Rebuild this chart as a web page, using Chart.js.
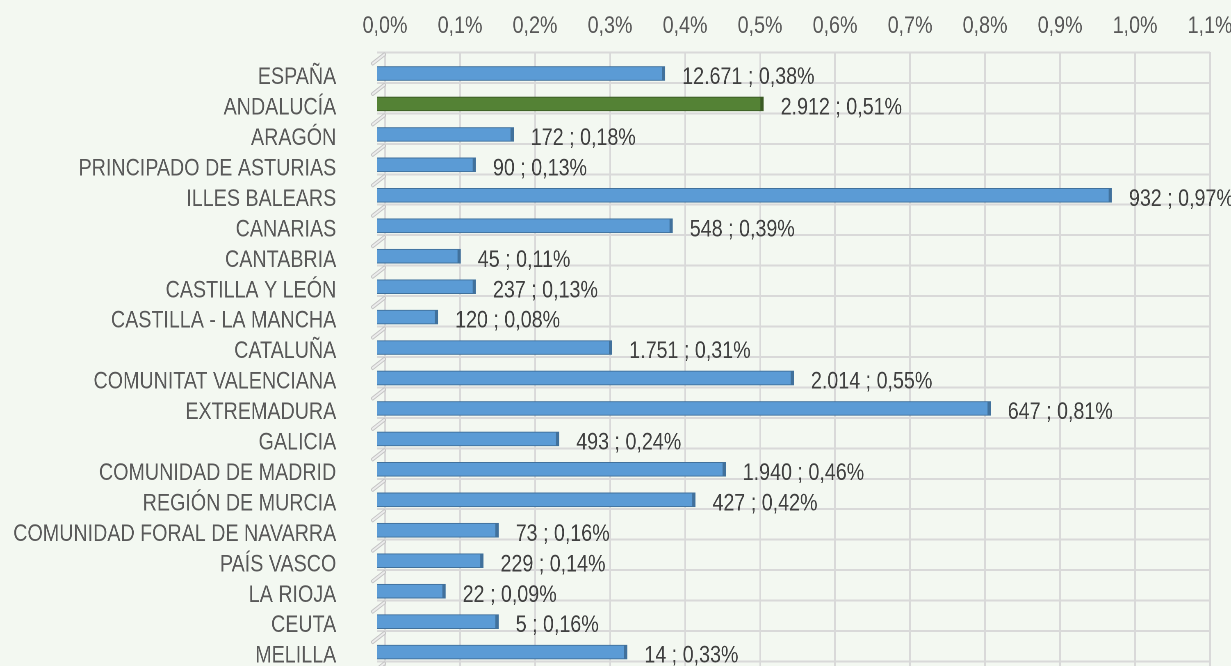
<!DOCTYPE html>
<html><head><meta charset="utf-8">
<script src="https://cdn.jsdelivr.net/npm/chart.js@4.4.1/dist/chart.umd.min.js"></script>
<style>
html,body{margin:0;padding:0;overflow:hidden;background:#f3f8f1;width:1231px;height:666px;}
#wrap{position:absolute;left:0;top:0;transform:scaleX(0.82012);transform-origin:0 0;}
canvas{display:block;}
</style>
</head><body><div id="wrap"><canvas id="c" width="1501" height="700"></canvas></div>
<script>
const categories = ['ESPAÑA','ANDALUCÍA','ARAGÓN','PRINCIPADO DE ASTURIAS','ILLES BALEARS','CANARIAS','CANTABRIA','CASTILLA Y LEÓN','CASTILLA - LA MANCHA','CATALUÑA','COMUNITAT VALENCIANA','EXTREMADURA','GALICIA','COMUNIDAD DE MADRID','REGIÓN DE MURCIA','COMUNIDAD FORAL DE NAVARRA','PAÍS VASCO','LA RIOJA','CEUTA','MELILLA'];
const percentValues = [0.38,0.51,0.18,0.13,0.97,0.39,0.11,0.13,0.08,0.31,0.55,0.81,0.24,0.46,0.42,0.16,0.14,0.09,0.16,0.33];
const countValues = [12671,2912,172,90,932,548,45,237,120,1751,2014,647,493,1940,427,73,229,22,5,14];
const tickValues = [0,0.1,0.2,0.3,0.4,0.5,0.6,0.7,0.8,0.9,1.0,1.1];
const tickLabels = ['0,0%','0,1%','0,2%','0,3%','0,4%','0,5%','0,6%','0,7%','0,8%','0,9%','1,0%','1,1%'];
const highlighted = 'ANDALUCÍA';

const FONT = '"Liberation Sans", Arial, sans-serif';
const BLUE = '#5b9bd5', BLUE_D = '#41719c', GREEN = '#548235', GREEN_D = '#3a5a24';
const GRID = '#d9d9d9';
const GRID_SHIFT = 0.69; // 3D back-wall offset of the category grid

function fmtCount(n){ return String(n).replace(/\B(?=(\d{3})+(?!\d))/g, '.'); }
function fmtPct(v){ return v.toFixed(2).replace('.', ',') + '%'; }

const rowPoints = categories.map((c,i)=>({x: percentValues[i], y: i}));
const yTickValues = [];
categories.forEach((c,i)=>{ yTickValues.push(i - GRID_SHIFT, i); });
yTickValues.push(categories.length - GRID_SHIFT);

const labelPlugin = {
  id: 'barLabels',
  beforeDatasetsDraw(chart){
    const ctx = chart.ctx, y = chart.scales.y, xg = chart.scales.xg;
    const x0 = xg.getPixelForValue(0);
    ctx.save();
    ctx.lineCap = 'round';
    yTickValues.filter(v => !Number.isInteger(v)).forEach(v=>{
      const py = y.getPixelForValue(v);
      ctx.strokeStyle = '#c4c4c4'; ctx.lineWidth = 4;
      ctx.beginPath(); ctx.moveTo(x0 - 1, py + 2); ctx.lineTo(x0 - 15, py + 11); ctx.stroke();
      ctx.strokeStyle = '#ececec'; ctx.lineWidth = 2;
      ctx.beginPath(); ctx.moveTo(x0 - 1, py + 2); ctx.lineTo(x0 - 15, py + 11); ctx.stroke();
    });
    ctx.restore();
  },
  afterDatasetsDraw(chart){
    const ctx = chart.ctx;
    const meta = chart.getDatasetMeta(0);
    ctx.save();
    ctx.font = '24px ' + FONT;
    ctx.fillStyle = '#404040';
    ctx.textAlign = 'left'; ctx.textBaseline = 'middle';
    meta.data.forEach((el,i)=>{
      ctx.fillText(fmtCount(countValues[i]) + ' ; ' + fmtPct(percentValues[i]), el.x + 21, el.y + 4);
    });
    ctx.restore();
  }
};

new Chart(document.getElementById('c'), {
  type: 'bar',
  data: {
    datasets: [{
      data: rowPoints,
      xAxisID: 'xb', yAxisID: 'y',
      backgroundColor: categories.map(c => c === highlighted ? GREEN : BLUE),
      borderColor: categories.map(c => c === highlighted ? GREEN_D : BLUE_D),
      borderWidth: {top: 1, right: 4, bottom: 1, left: 0},
      borderSkipped: false,
      barThickness: 14
    }]
  },
  options: {
    indexAxis: 'y',
    responsive: false,
    devicePixelRatio: 2,
    animation: false,
    layout: {padding: {left: 0, right: 25.5, top: 0, bottom: 10}},
    plugins: {legend: {display: false}, tooltip: {enabled: false}},
    scales: {
      xg: {
        type: 'linear', position: 'top', offset: false,
        min: -0.01039, max: 1.1,
        afterBuildTicks(s){ s.ticks = tickValues.map(v=>({value: v})); },
        afterFit(s){ s.height = 52; s.paddingLeft = 0; s.paddingRight = 0; },
        grid: {color: GRID, lineWidth: 2, drawTicks: false, offset: false},
        border: {display: false},
        ticks: {
          padding: 11, color: '#595959', font: {family: FONT, size: 24}, maxRotation: 0, autoSkip: false,
          callback(v, i){ return tickLabels[i]; }
        }
      },
      xb: {
        type: 'linear', display: false, offset: false, min: 0, max: 1.1
      },
      y: {
        type: 'linear', position: 'left', reverse: true, offset: false,
        min: -0.706, max: 20.246,
        afterBuildTicks(s){ s.ticks = yTickValues.map(v=>({value: v})); },
        afterFit(s){ s.width = 460; s.paddingTop = 0; s.paddingBottom = 0; },
        grid: {
          drawTicks: false, lineWidth: 2, offset: false,
          color: c => (c.tick && !Number.isInteger(c.tick.value)) ? GRID : 'rgba(0,0,0,0)'
        },
        border: {display: false},
        ticks: {
          padding: 50, labelOffset: 4, autoSkip: false, color: '#595959', font: {family: FONT, size: 24},
          callback(v){ return Number.isInteger(v) ? categories[v] : ''; }
        }
      }
    }
  },
  plugins: [labelPlugin]
});
</script>
</body></html>
